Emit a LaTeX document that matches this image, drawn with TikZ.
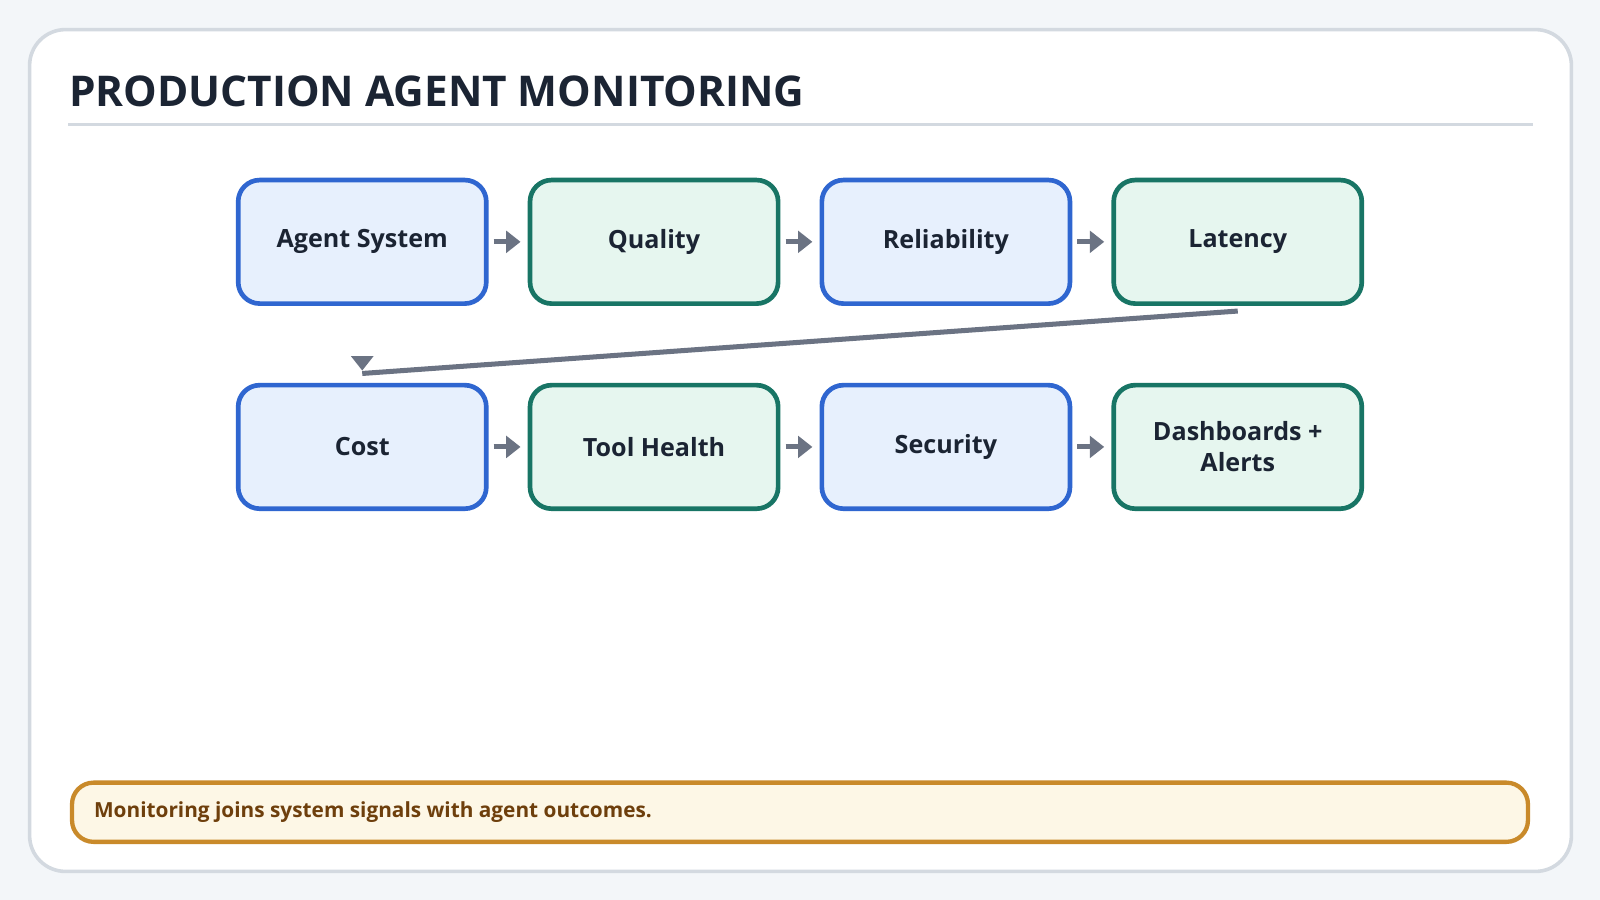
\documentclass[tikz,border=0pt]{standalone}
\usepackage{fontspec}
\setmainfont{Open Sans}
\usetikzlibrary{positioning,arrows.meta}
\definecolor{bgpage}{HTML}{F3F6F9}
\definecolor{cardline}{HTML}{D3D9E0}
\definecolor{inkdark}{HTML}{1B2433}
\definecolor{blueline}{HTML}{2F66D0}
\definecolor{bluefill}{HTML}{E7F0FD}
\definecolor{greenline}{HTML}{187565}
\definecolor{greenfill}{HTML}{E6F6EF}
\definecolor{flowgray}{HTML}{6B7383}
\definecolor{noteline}{HTML}{C98A2A}
\definecolor{notefill}{HTML}{FDF7E6}
\definecolor{noteink}{HTML}{6E3F0C}

\tikzset{
    stage/.style = {draw, line width=1.3pt, rounded corners=6pt, minimum width=2.43cm,
        minimum height=1.21cm, align=center, text=inkdark, font=\bfseries\fontsize{7}{8.6}\selectfont},
    bluestage/.style = {stage, draw=blueline, fill=bluefill},
    greenstage/.style = {stage, draw=greenline, fill=greenfill},
    flow/.style = {draw=flowgray, line width=1.4pt, -{Triangle[length=4pt,width=6pt]}},
}

\begin{document}
\begin{tikzpicture}[x=0.01cm, y=0.01cm]
    \useasboundingbox (0,0) rectangle (1568,-882);
    \fill [bgpage] (0,0) rectangle (1568,-882);
    \draw [cardline, line width=1pt, fill=white, rounded corners=10pt] (29,-29) rectangle (1540,-854);
    \node [anchor=base west, inner sep=0, text=inkdark, font=\bfseries\fontsize{11.8}{14}\selectfont] (title) at (67,-104) {PRODUCTION AGENT MONITORING};
    \draw [cardline, line width=1pt] (67,-122) -- (1502,-122);

    % first row
    \node [bluestage]  (agent)   at (355,-237) {Agent System};
    \node [greenstage] (quality) at (641,-237) {Quality};
    \node [bluestage]  (reliab)  at (927,-237) {Reliability};
    \node [greenstage] (latency) at (1213,-237) {Latency};
    % second row
    \node [bluestage]  (cost)     at (355,-438) {Cost};
    \node [greenstage] (toolh)    at (641,-438) {Tool Health};
    \node [bluestage]  (security) at (927,-438) {Security};
    \node [greenstage] (dash)     at (1213,-438) {Dashboards +\\Alerts};

    \draw [flow] ([xshift=0.05cm]agent.east) -- ([xshift=-0.07cm]quality.west);
    \draw [flow] ([xshift=0.05cm]quality.east) -- ([xshift=-0.07cm]reliab.west);
    \draw [flow] ([xshift=0.05cm]reliab.east) -- ([xshift=-0.07cm]latency.west);
    \draw [flow] ([xshift=0.05cm]cost.east) -- ([xshift=-0.07cm]toolh.west);
    \draw [flow] ([xshift=0.05cm]toolh.east) -- ([xshift=-0.07cm]security.west);
    \draw [flow] ([xshift=0.05cm]security.east) -- ([xshift=-0.07cm]dash.west);

    \coordinate (turn) at (355,-366);
    \draw [draw=flowgray, line width=1.4pt] ([yshift=-0.05cm]latency.south) -- (turn);
    \draw [flow] ([yshift=0.08cm]turn) -- ([yshift=0.12cm]cost.north);

    \node [draw=noteline, fill=notefill, line width=1.2pt, rounded corners=6pt,
        minimum width=14.26cm, minimum height=0.58cm] (note) at (784,-796) {};
    \node [anchor=west, inner sep=0, text=noteink, font=\bfseries\fontsize{5.8}{7}\selectfont] at ([xshift=0.23cm]note.west) {Monitoring joins system signals with agent outcomes.};
\end{tikzpicture}
\end{document}
